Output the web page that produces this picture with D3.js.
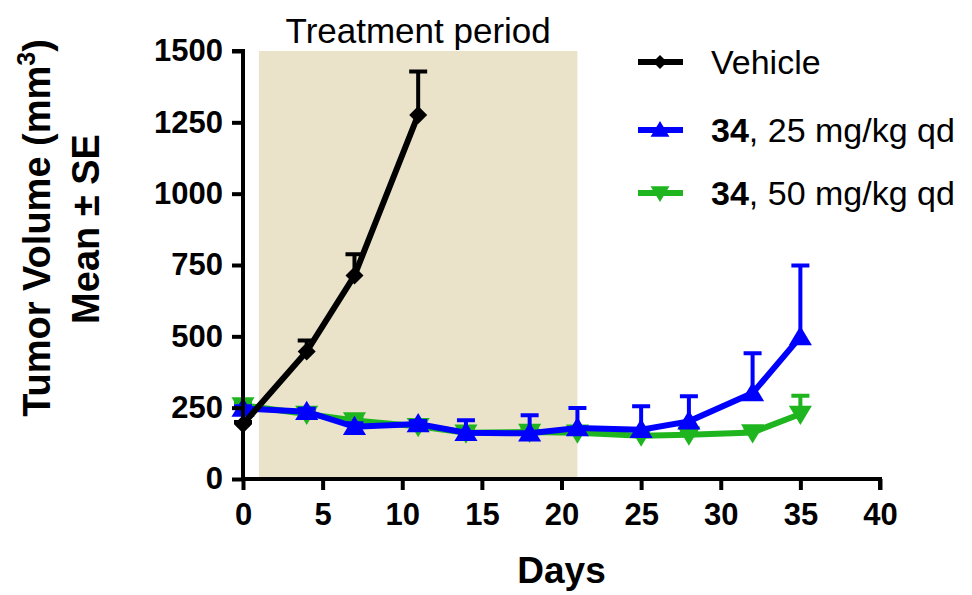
<!DOCTYPE html>
<html>
<head>
<meta charset="utf-8">
<script src="https://cdn.jsdelivr.net/npm/d3@7"></script>
<style>
  body { margin: 0; background: #fff; }
  text { font-family: "Liberation Sans", Arial, sans-serif; fill: #000; }
</style>
</head>
<body>
<div id="chart"></div>
<script>
// Tumor volume over time, vehicle vs compound 34 at two doses

const days        = [0, 4, 7, 11, 14, 18, 21, 25, 28, 32, 35]
const vehicleDays = [0, 4, 7, 11]
const vehicleMean = [192, 447, 713, 1276]
const vehicleSE   = [8, 38, 75, 152]
const dose25Mean  = [247, 236, 183, 193, 162, 160, 179, 173, 202, 301, 498]
const dose25SE    = [8, 10, 12, 10, 44, 63, 70, 82, 88, 140, 250]
const dose50Mean  = [258, 228, 205, 185, 162, 165, 162, 152, 155, 163, 228]
const dose50SE    = [10, 10, 12, 10, 12, 14, 14, 12, 14, 15, 64]
const xTicks = [0, 5, 10, 15, 20, 25, 30, 35, 40]
const yTicks = [0, 250, 500, 750, 1000, 1250, 1500]
const treatment = [1, 21]

const W = 972, H = 595
const X0 = 243, X1 = 880 // x pixel range
const Y0 = 479, Y1 = 51  // y pixel range

const x = d3.scaleLinear([0, 40], [X0, X1])
const y = d3.scaleLinear([0, 1500], [Y0, Y1])

const series = [
  { mean: dose50Mean, se: dose50SE, days: days, color: '#1fb51f', sym: 'down' },
  { mean: dose25Mean, se: dose25SE, days: days, color: '#0000ff', sym: 'up' },
  { mean: vehicleMean, se: vehicleSE, days: vehicleDays, color: '#000000', sym: 'diamond' },
]

const svg = d3.select('#chart').append('svg').attr('width', W).attr('height', H)

// treatment window
svg.append('rect')
  .attr('x', x(treatment[0])).attr('y', y(1500))
  .attr('width', x(treatment[1]) - x(treatment[0])).attr('height', y(0) - y(1500))
  .attr('fill', '#eae3c9')
svg.append('text').attr('x', x(11)).attr('y', 43).attr('text-anchor', 'middle')
  .style('font-size', '35px').text('Treatment period')

function marker(sym, s) {
  if (sym === 'diamond') return `M0,${-s}L${s},0L0,${s}L${-s},0Z`
  if (sym === 'up') return `M0,${-s}L${s*1.05},${s*0.75}L${-s*1.05},${s*0.75}Z`
  return `M0,${s}L${s*1.05},${-s*0.75}L${-s*1.05},${-s*0.75}Z`
}

// error bars, lines, markers
series.forEach(sr => {
  const pts = sr.days.map((d, i) => ({ d, m: sr.mean[i], e: sr.se[i] }))
  const g = svg.append('g')
  g.selectAll('.eb').data(pts).join('path')
    .attr('d', p => `M${x(p.d)},${y(p.m)}V${y(p.m + p.e)}M${x(p.d) - 9},${y(p.m + p.e)}H${x(p.d) + 9}`)
    .attr('stroke', sr.color).attr('stroke-width', 4).attr('fill', 'none')
  g.append('path').datum(pts)
    .attr('d', d3.line(p => x(p.d), p => y(p.m)))
    .attr('stroke', sr.color).attr('stroke-width', 6).attr('fill', 'none')
  g.selectAll('.mk').data(pts).join('path')
    .attr('transform', p => `translate(${x(p.d)},${y(p.m)})`)
    .attr('d', marker(sr.sym, sr.sym === 'diamond' ? 9 : 11))
    .attr('fill', sr.color)
})

// axes
const axX = svg.append('g').attr('transform', `translate(0,${Y0})`)
  .call(d3.axisBottom(x).tickValues(xTicks).tickFormat(d3.format('d')).tickSize(11).tickPadding(13))
const axY = svg.append('g').attr('transform', `translate(${X0},0)`)
  .call(d3.axisLeft(y).tickValues(yTicks).tickFormat(d3.format('d')).tickSize(11).tickPadding(9))
;[axX, axY].forEach(a => {
  a.select('.domain').attr('stroke', '#000').attr('stroke-width', 4)
  a.selectAll('.tick line').attr('stroke', '#000').attr('stroke-width', 4)
  a.selectAll('.tick text').style('font-family', '"Liberation Sans", Arial, sans-serif')
    .style('font-size', '31px').style('font-weight', 'bold')
})
axY.select('.domain').attr('d', `M0,${Y0}V${Y1}H-11`)
axX.select('.domain').attr('d', `M${X0},0H${X1}V11`)

svg.append('text').attr('x', x(20)).attr('y', 583).attr('text-anchor', 'middle')
  .style('font-size', '37px').style('font-weight', 'bold').text('Days')

const yt = svg.append('text').attr('transform', 'translate(50,228) rotate(-90)')
  .attr('text-anchor', 'middle').style('font-size', '38px').style('font-weight', 'bold')
yt.append('tspan').text('Tumor Volume (mm')
yt.append('tspan').attr('dy', -15).style('font-size', '25px').text('3')
yt.append('tspan').attr('dy', 15).text(')')
svg.append('text').attr('transform', 'translate(99,229) rotate(-90)')
  .attr('text-anchor', 'middle').style('font-size', '38px').style('font-weight', 'bold')
  .text('Mean ± SE')

// legend
const legend = [
  { color: '#000000', sym: 'diamond', bold: '', rest: 'Vehicle' },
  { color: '#0000ff', sym: 'up', bold: '34', rest: ', 25 mg/kg qd' },
  { color: '#1fb51f', sym: 'down', bold: '34', rest: ', 50 mg/kg qd' },
]
const lg = svg.selectAll('.lg').data(legend).join('g')
  .attr('transform', (d, i) => `translate(0,${[62, 130, 193][i]})`)
lg.append('line').attr('x1', 638).attr('x2', 683)
  .attr('stroke', d => d.color).attr('stroke-width', 6)
lg.append('path').attr('transform', 'translate(660,0)')
  .attr('d', d => marker(d.sym, d.sym === 'diamond' ? 7 : 9)).attr('fill', d => d.color)
const lt = lg.append('text').attr('x', 711).attr('y', 12).style('font-size', '34px')
lt.append('tspan').style('font-weight', 'bold').text(d => d.bold)
lt.append('tspan').text(d => d.rest)
</script>
</body>
</html>
